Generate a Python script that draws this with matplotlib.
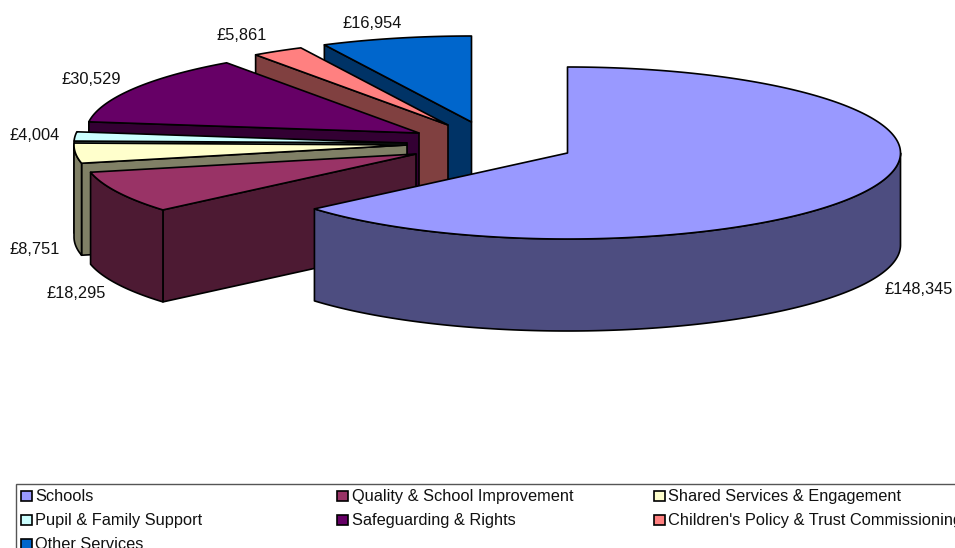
#!/usr/bin/env python3
import numpy as np
import matplotlib
matplotlib.use('Agg')
import matplotlib.pyplot as plt
from matplotlib.patches import Polygon, Rectangle

plt.rcParams['font.family'] = ['Liberation Sans', 'DejaVu Sans']

services = ['Schools', 'Quality & School Improvement', 'Shared Services & Engagement',
            'Pupil & Family Support', 'Safeguarding & Rights',
            "Children's Policy & Trust Commissioning", 'Other Services']
budget = [148345, 18295, 8751, 4004, 30529, 5861, 16954]
top_colors = ['#9999FF', '#993366', '#FFFFCC', '#CCFFFF', '#660066', '#FF8080', '#0066CC']
side_colors = ['#4D4D80', '#4D1A33', '#808066', '#668080', '#330033', '#804040', '#003366']

# pie geometry, in canvas pixels
RX, RY, DEPTH = 333, 86, 92
apexes = [(567.5, 153), (416, 154), (407, 145), (407, 143), (419, 133), (448, 125), (471.5, 122)]
label_xy = [(919, 293.5), (76, 298.5), (35, 254.5), (35, 140.5), (91, 83.5), (242, 40.5), (372, 27.5)]
FONT = 11.75
LINE = 1.2


def rim(apex, a0, a1):
    # outer arc between two clockwise-from-top angles (degrees)
    t = np.radians(np.linspace(a0, a1, max(int(abs(a1 - a0) * 2), 2)))
    return np.column_stack([apex[0] + RX * np.sin(t), apex[1] - RY * np.cos(t)])


def add_face(ax, pts, color):
    ax.add_patch(Polygon(pts, closed=True, facecolor=color, edgecolor='black',
                         linewidth=LINE, joinstyle='round'))


fig = plt.figure(figsize=(9.55, 5.48), dpi=100)
ax = fig.add_axes([0, 0, 1, 1])
ax.set_xlim(0, 955)
ax.set_ylim(548, 0)
ax.axis('off')

edges = np.cumsum([0] + budget) / sum(budget) * 360
down = np.array([0, DEPTH])

# back slices first, Schools last so it sits in front
for i in [6, 5, 4, 3, 2, 1, 0]:
    a0, a1 = edges[i], edges[i + 1]
    apex = np.array(apexes[i], dtype=float)

    # cut face on the start side of the slice faces the viewer on the left half
    if np.sin(np.radians(a0)) < -1e-6:
        p = rim(apex, a0, a0)[0]
        add_face(ax, [apex, p, p + down, apex + down], side_colors[i])

    # outer wall, only the front half of the ellipse is visible
    w0, w1 = max(a0, 90), min(a1, 270)
    if w1 > w0:
        arc = rim(apex, w0, w1)
        add_face(ax, np.vstack([arc, arc[::-1] + down]), side_colors[i])

    add_face(ax, np.vstack([apex, rim(apex, a0, a1)]), top_colors[i])

for v, (x, y) in zip(budget, label_xy):
    ax.text(x, y, f'£{v:,}', fontsize=FONT, ha='center', va='baseline', color='#111111')

# legend box runs off the canvas on the right and at the bottom
ax.add_patch(Rectangle((16, 483.5), 1000, 100, facecolor='white', edgecolor='#555555', linewidth=1.0))
swatch_x = [21, 337, 654]
text_x = [35, 352, 668]
row_y = [495.5, 519.5, 543.5]
for i, name in enumerate(services):
    row, col = i // 3, i % 3
    y = row_y[row]
    ax.add_patch(Rectangle((swatch_x[col], y - 5), 10.5, 10.5, facecolor=top_colors[i],
                           edgecolor='black', linewidth=LINE))
    ax.text(text_x[col], y + 5.5, name, fontsize=FONT, ha='left', va='baseline', color='#111111')

fig.savefig('out.png', dpi=100)
